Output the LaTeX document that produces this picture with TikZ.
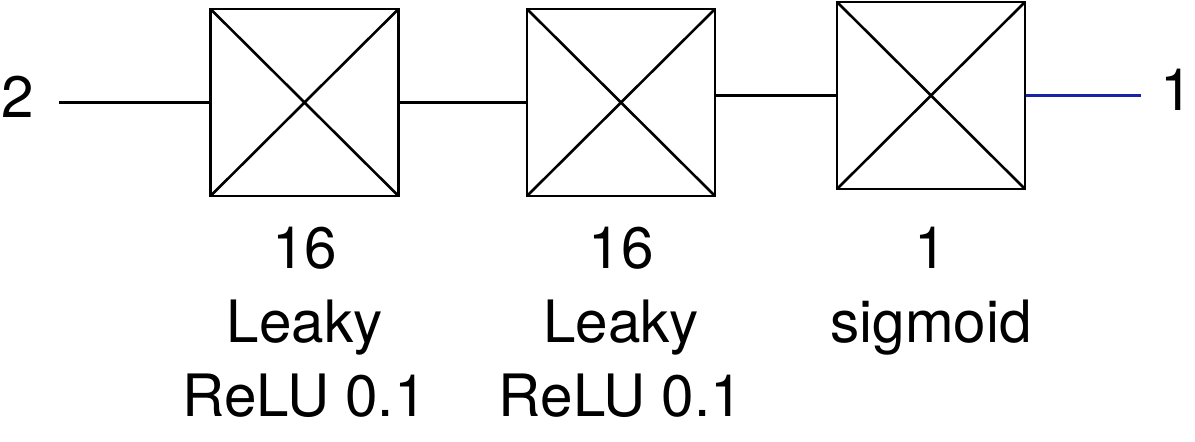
\documentclass[tikz,border=0pt]{standalone}
\usepackage{fontspec}
\setmainfont{TeX Gyre Heros}
\usetikzlibrary{positioning}
\definecolor{outblue}{RGB}{26,35,166}

\begin{document}
\begin{tikzpicture}[
    x=0.5pt, y=-0.5pt,
    line width=1.3pt,
    every node/.style={inner sep=0pt, font=\fontsize{29.2}{37}\selectfont},
    layer/.style={draw, minimum width=94pt, minimum height=93.5pt,
        path picture={\draw (path picture bounding box.north west) -- (path picture bounding box.south east)
                            (path picture bounding box.south west) -- (path picture bounding box.north east);}},
    info/.style={align=center}]

\useasboundingbox (0,0) rectangle (1195,442);

\node[layer] (b1) at (304.5,102.5) {};
\node[layer] (b2) at (621,102.5) {};
\node[layer] (b3) at (931,95.5) {};

\node[info, below=14pt of b1] (l1) {16\\Leaky\\ReLU 0.1};
\node[info, below=14pt of b2] (l2) {16\\Leaky\\ReLU 0.1};
\node[info, anchor=north] (l3) at (b3 |- l1.north) {1\\sigmoid};

\node (in) at (18,96.5) {2};
\node (out) at (1176.5,89.5) {1};
\coordinate (x0) at (59,102.5);
\coordinate (y0) at (1141,95.5);

\draw (x0) -- (b1.west);
\draw (b1.east) -- (b2.west);
\draw (b2.east |- b3.west) -- (b3.west);
\draw[outblue] (b3.east) -- (y0);

\end{tikzpicture}
\end{document}
